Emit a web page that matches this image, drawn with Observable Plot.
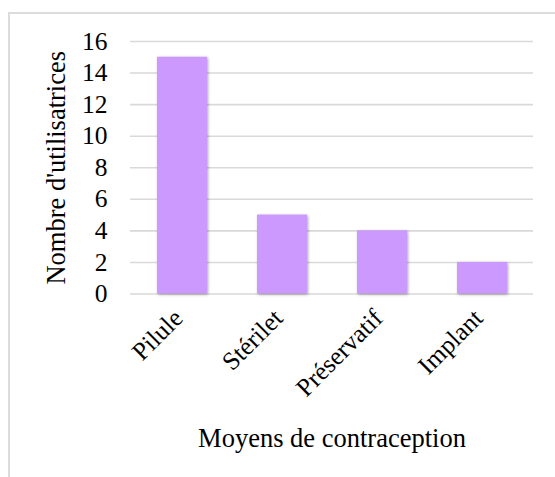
<!DOCTYPE html>
<html><head><meta charset="utf-8">
<script src="https://cdn.jsdelivr.net/npm/d3@7"></script>
<script src="https://cdn.jsdelivr.net/npm/@observablehq/plot@0.6"></script>
<style>
html,body{margin:0;padding:0;background:#fff;}
#wrap{position:relative;width:555px;height:477px;overflow:hidden;}
#frame{position:absolute;left:8px;top:12px;width:600px;height:600px;border:2px solid #dcdcdc;box-sizing:border-box;}
#chart{position:absolute;left:0;top:0;}
</style></head><body>
<div id="wrap"><div id="frame"></div><div id="chart"></div></div>
<script>
const categories = ["Pilule", "Stérilet", "Préservatif", "Implant"];
const values = [15, 5, 4, 2];
const yTicks = [0, 2, 4, 6, 8, 10, 12, 14, 16];
const xTitle = "Moyens de contraception";
const yTitle = "Nombre d'utilisatrices";

const data = categories.map((c, i) => ({cat: c, value: values[i]}));

const plot = Plot.plot({
  width: 555, height: 477,
  marginLeft: 130, marginRight: 22, marginTop: 41, marginBottom: 183.5,
  style: {fontFamily: "'Liberation Serif', 'Times New Roman', serif", fontSize: "24px", color: "#000", background: "transparent", overflow: "visible"},
  x: {domain: categories, paddingInner: 0.5, paddingOuter: 0.25},
  y: {domain: [0, 16]},
  marks: [
    Plot.gridY(yTicks, {stroke: "#d9d9d9", strokeOpacity: 1, strokeWidth: 1.6}),
    Plot.barY(data, {x: "cat", y: "value", fill: "#cc99ff"}),
    Plot.axisY(yTicks, {tickSize: 0, tickPadding: 23, label: yTitle, labelAnchor: "center", labelArrow: "none", labelOffset: 84}),
    Plot.axisX({tickSize: 0, tickRotate: -45, tickPadding: 20, dx: -4, label: xTitle, labelAnchor: "center", labelArrow: "none", labelOffset: 153})
  ]
});
const sel = d3.select(plot);
sel.selectAll('g[aria-label="bar"]').style("filter", "drop-shadow(1.5px 1.5px 1.5px rgba(0,0,0,0.35))");
sel.selectAll('g[aria-label="y-axis tick label"] text, g[aria-label="x-axis tick label"] text').attr("font-size", 25.5).style("font-size", "25.5px");
sel.selectAll('g[aria-label="y-axis label"] text, g[aria-label="x-axis label"] text').attr("font-size", 26.5).style("font-size", "26.5px");
document.getElementById("chart").appendChild(plot);
</script>
</body></html>
